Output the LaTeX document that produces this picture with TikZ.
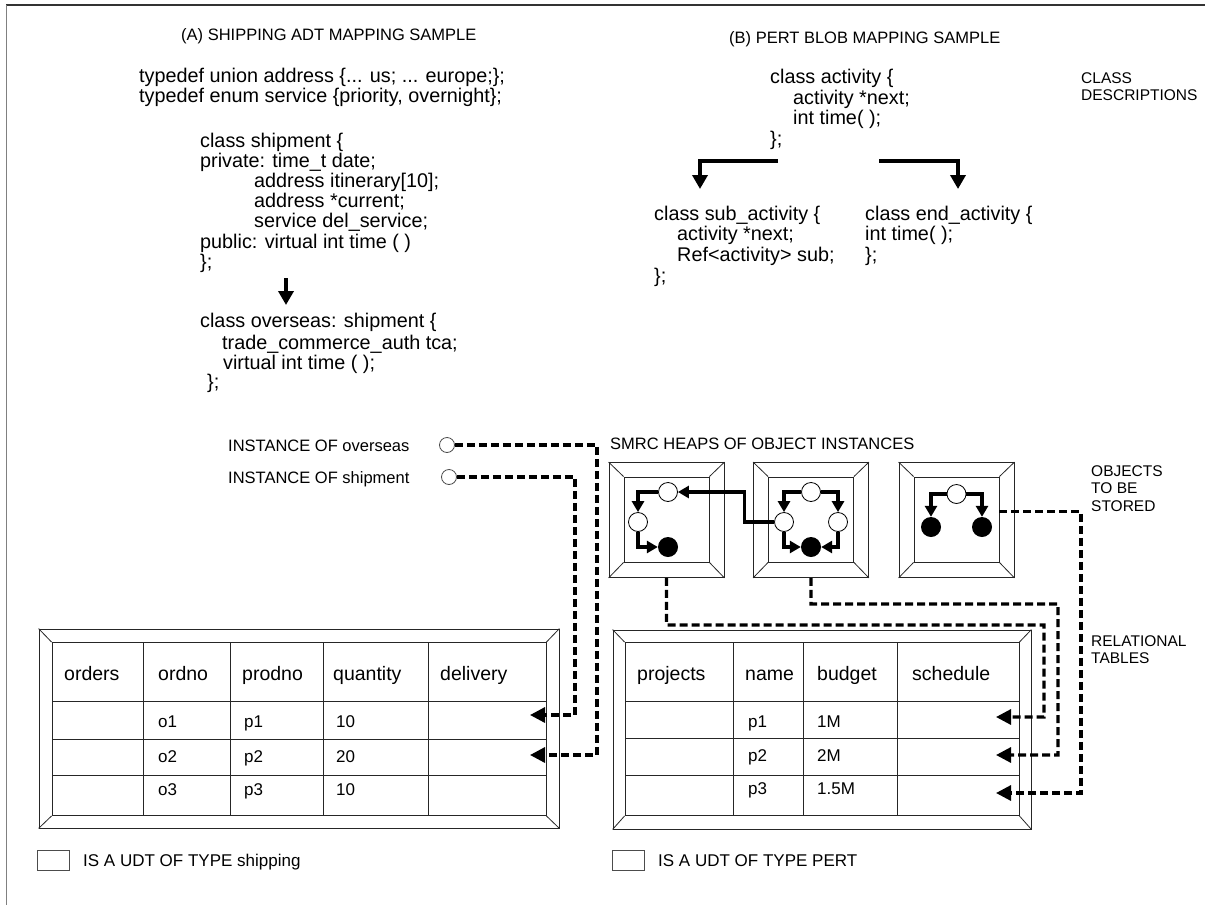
\documentclass[tikz,border=0pt]{standalone}
\usepackage{fontspec}
\setmainfont{Liberation Sans}
\usetikzlibrary{arrows.meta}
\begin{document}
\begin{tikzpicture}[x=1pt,y=-1pt,
 every node/.style={inner sep=0pt},
 code/.style={font=\fontsize{19.8}{22}\selectfont, anchor=base west},
 lab/.style={font=\fontsize{16.5}{18}\selectfont, anchor=base west},
 side/.style={font=\fontsize{15.5}{17}\selectfont, anchor=base west},
 thead/.style={font=\fontsize{19.5}{21}\selectfont, anchor=base west},
 tcell/.style={font=\fontsize{17}{19}\selectfont, anchor=base west},
 legtext/.style={font=\fontsize{17}{19}\selectfont, anchor=base west},
 gridline/.style={line width=0.8pt, draw=black!85},
 heapbox/.style={draw=black!85, line width=0.8pt, minimum size=115pt},
 heapin/.style={draw=black!85, line width=0.8pt, minimum size=85pt},
 wobj/.style={circle, draw, fill=white, line width=0.8pt, minimum width=19pt, minimum height=19pt},
 bobj/.style={circle, fill=black, minimum size=20pt},
 inst/.style={circle, draw=black!70, fill=white, line width=0.8pt, minimum size=15pt},
 harrow/.style={line width=3.2pt, -{Triangle[length=11pt,width=12pt]}},
 carrow/.style={line width=4pt, -{Triangle[length=14pt,width=15pt]}},
 dconn/.style={line width=3.2pt, dash pattern=on 8pt off 4pt, -{Triangle[length=15pt,width=15pt]}},
]
\fill[white] (0,0) rectangle (1205,905);
\useasboundingbox (0,0) rectangle (1205,905);
% frame
\draw[line width=1.5pt, black!80] (6,5) -- (1205,5);
\draw[line width=1pt, black!50] (6,5) -- (6,905);

% ---------- (A) ----------
\node[lab] (titA) at (181,40) {(A) SHIPPING ADT MAPPING SAMPLE};
\node[code] (tdu) at (139,82) {typedef union address \{... us; ... europe;\};};
\node[code] (tde) at (139,102) {typedef enum service \{priority, overnight\};};
\node[code] (cs1) at (200,147) {class shipment \{};
\node[code] (cs2) at (200,167) {private: time\_t date;};
\node[code] (cs3) at (254,187) {address itinerary[10];};
\node[code] (cs4) at (254,207) {address *current;};
\node[code] (cs5) at (254,227) {service del\_service;};
\node[code] (cs6) at (200,248) {public: virtual int time ( )};
\node[code] (cs7) at (200,268) {\};};
\coordinate (shA) at (286,278);
\coordinate (shB) at (286,305);
\draw[carrow] (shA) -- (shB);
\node[code] (co1) at (200,327) {class overseas: shipment \{};
\node[code] (co2) at (222,349) {trade\_commerce\_auth tca;};
\node[code] (co3) at (223,369) {virtual int time ( );};
\node[code] (co4) at (207,388) {\};};

% ---------- (B) ----------
\node[lab] (titB) at (729,43) {(B) PERT BLOB MAPPING SAMPLE};
\node[code] (ca1) at (770,83) {class activity \{};
\node[code] (ca2) at (793,104) {activity *next;};
\node[code] (ca3) at (793,124) {int time( );};
\node[code] (ca4) at (770,145) {\};};
\coordinate (acL) at (778,161);
\coordinate (acR) at (879,161);
\coordinate (subT) at (700,189);
\coordinate (endT) at (958,189);
\draw[carrow] (acL) -| (subT);
\draw[carrow] (acR) -| (endT);
\node[code] (sa1) at (654,220) {class sub\_activity \{};
\node[code] (sa2) at (677,240) {activity *next;};
\node[code] (sa3) at (677,261) {Ref<activity> sub;};
\node[code] (sa4) at (654,282) {\};};
\node[code] (ea1) at (865,220) {class end\_activity \{};
\node[code] (ea2) at (865,240) {int time( );};
\node[code] (ea3) at (865,261) {\};};
\node[side] (cd1) at (1081,83) {CLASS};
\node[side] (cd2) at (1081,100) {DESCRIPTIONS};

% ---------- instances ----------
\node[lab] (iol) at (228,451) {INSTANCE OF overseas};
\node[lab] (isl) at (228,483) {INSTANCE OF shipment};
\node[inst] (ov) at (447,445) {};
\node[inst] (sh) at (449,477) {};

% ---------- heaps ----------
\node[lab] (smrc) at (610,449) {SMRC HEAPS OF OBJECT INSTANCES};
\foreach \n/\x in {h1/666.5, h2/811, h3/956.5}{
  \node[heapbox] (\n) at (\x,520) {};
  \node[heapin] (\n i) at (\x,519.5) {};
  \draw[line width=0.8pt, black!85] (\n.north west) -- (\n i.north west)
     (\n.north east) -- (\n i.north east)
     (\n.south west) -- (\n i.south west)
     (\n.south east) -- (\n i.south east);
}
% heap 1
\node[wobj] (a1) at (668,492) {};
\node[wobj] (a2) at (638,522) {};
\node[bobj] (a3) at (668,547) {};
\draw[harrow] (a1.west) -| (a2.north);
\draw[harrow] (a2.south) |- (a3.west);
% heap 2
\node[wobj] (b1) at (811,492) {};
\node[wobj] (b2) at (784,522) {};
\node[wobj] (b3) at (838,522) {};
\node[bobj] (b4) at (811,547) {};
\draw[harrow] (b1.west) -| (b2.north);
\draw[harrow] (b1.east) -| (b3.north);
\draw[harrow] (b2.south) |- (b4.west);
\draw[harrow] (b3.south) |- (b4.east);
\draw[harrow] (b2.west) -- ++(-29.5,0) |- (a1.east);
% heap 3
\node[wobj] (c1) at (956.5,494) {};
\node[bobj] (c2) at (931,527) {};
\node[bobj] (c3) at (982,527) {};
\draw[harrow] (c1.west) -| (c2.north);
\draw[harrow] (c1.east) -| (c3.north);

\node[side] (ob1) at (1091,476) {OBJECTS};
\node[side] (ob2) at (1091,493) {TO BE};
\node[side] (ob3) at (1091,511) {STORED};
\node[side] (rt1) at (1091,646) {RELATIONAL};
\node[side] (rt2) at (1091,663) {TABLES};

% ---------- table A ----------
\node[draw=black!85, line width=0.8pt, minimum width=520pt, minimum height=199pt] (tA) at (299,728.5) {};
\node[draw=black!85, line width=0.8pt, minimum width=494pt, minimum height=173pt] (tAi) at (299,729) {};
\draw[gridline] (tA.north west) -- (tAi.north west) (tA.north east) -- (tAi.north east)
  (tA.south west) -- (tAi.south west) (tA.south east) -- (tAi.south east);
\draw[gridline] (52,701) -- (546,701) (52,739) -- (546,739) (52,775) -- (546,775);
\draw[gridline] (143,642.5) -- (143,815.5) (230,642.5) -- (230,815.5) (323,642.5) -- (323,815.5) (428,642.5) -- (428,815.5);
\node[thead] (ha1) at (64,680) {orders};
\node[thead] (ha2) at (158,680) {ordno};
\node[thead] (ha3) at (242,680) {prodno};
\node[thead] (ha4) at (333,680) {quantity};
\node[thead] (ha5) at (440,680) {delivery};
\node[tcell] (ra11) at (158,727) {o1};
\node[tcell] (ra12) at (244,727) {p1};
\node[tcell] (ra13) at (336,727) {10};
\node[tcell] (ra21) at (158,762) {o2};
\node[tcell] (ra22) at (244,762) {p2};
\node[tcell] (ra23) at (336,762) {20};
\node[tcell] (ra31) at (158,795) {o3};
\node[tcell] (ra32) at (244,795) {p3};
\node[tcell] (ra33) at (336,795) {10};
\coordinate (tAo1) at (530,715);
\coordinate (tAo2) at (530,755);
\draw[dconn] (ov.east) -- (597,445) |- (tAo2);
\draw[dconn] (sh.east) -- (575,477) |- (tAo1);

% ---------- table B ----------
\node[draw=black!85, line width=0.8pt, minimum width=418pt, minimum height=199pt] (tB) at (822,729.5) {};
\node[draw=black!85, line width=0.8pt, minimum width=394pt, minimum height=173pt] (tBi) at (822,729) {};
\draw[gridline] (tB.north west) -- (tBi.north west) (tB.north east) -- (tBi.north east)
  (tB.south west) -- (tBi.south west) (tB.south east) -- (tBi.south east);
\draw[gridline] (625,701) -- (1019,701) (625,738) -- (1019,738) (625,775) -- (1019,775);
\draw[gridline] (733,642.5) -- (733,815.5) (803,642.5) -- (803,815.5) (897,642.5) -- (897,815.5);
\node[thead] (hb1) at (637,680) {projects};
\node[thead] (hb2) at (745,680) {name};
\node[thead] (hb3) at (817,680) {budget};
\node[thead] (hb4) at (912,680) {schedule};
\node[tcell] (rb11) at (748,727) {p1};
\node[tcell] (rb12) at (817,727) {1M};
\node[tcell] (rb21) at (748,761) {p2};
\node[tcell] (rb22) at (817,761) {2M};
\node[tcell] (rb31) at (748,794) {p3};
\node[tcell] (rb32) at (817,794) {1.5M};
\coordinate (tBp1) at (996,717);
\coordinate (tBp2) at (996,755);
\coordinate (tBp3) at (996,793);
\draw[dconn] (h1.south) -- ++(0,47) -- (1044,625) |- (tBp1);
\draw[dconn] (h2.south) -- ++(0,26) -- (1058,604) |- (tBp2);
\draw[dconn] ([yshift=8pt]h3i.east) -- (1081,511.5) |- (tBp3);

% ---------- legend ----------
\node[draw=black!70, line width=0.8pt, minimum width=32pt, minimum height=20pt] (lgA) at (53,860) {};
\node[legtext] (lgAt) at (83,866) {IS A UDT OF TYPE shipping};
\node[draw=black!70, line width=0.8pt, minimum width=32pt, minimum height=20pt] (lgB) at (628,860) {};
\node[legtext] (lgBt) at (658,866) {IS A UDT OF TYPE PERT};
\end{tikzpicture}
\end{document}
